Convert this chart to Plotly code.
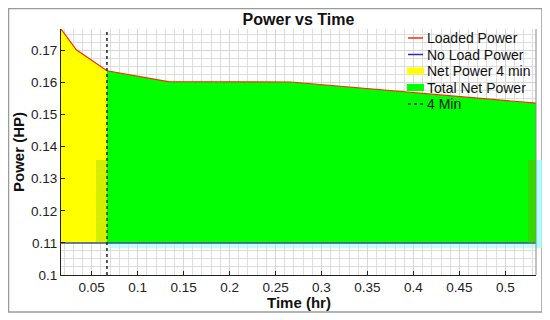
import plotly.graph_objects as go

# ---- data ----
time_min = [1, 2, 4, 8, 16, 32]
time_hr = [t / 60 for t in time_min]
loaded_power = [0.1766, 0.1701, 0.1636, 0.1602, 0.1601, 0.1535]
no_load_power = [0.11, 0.11, 0.11, 0.11, 0.11, 0.11]
marker_time_hr = 4 / 60
x_ticks = [0.05, 0.1, 0.15, 0.2, 0.25, 0.3, 0.35, 0.4, 0.45, 0.5]
y_ticks = [0.1, 0.11, 0.12, 0.13, 0.14, 0.15, 0.16, 0.17]
y_bottom = 0.1
legend_names = ["Loaded Power", "No Load Power", "Net Power 4 min", "Total Net Power", "4 Min"]

FONT = "Arial, Liberation Sans, sans-serif"

# page has an 8px body margin -> figure is 542x312, positions below use reference pixels
PL, PR, PT, PB = 61, 536, 29, 275
PW, PH = PR - PL, PB - PT


def pxx(X):
    return (X - PL) / PW


def pxy(Y):
    return (PB - Y) / PH


k = 2  # index of the 4 min point

fig = go.Figure()

xs_y = time_hr[: k + 1] + time_hr[: k + 1][::-1]
ys_y = loaded_power[: k + 1] + no_load_power[: k + 1][::-1]
xs_g = time_hr[k:] + time_hr[k:][::-1]
ys_g = loaded_power[k:] + no_load_power[k:][::-1]

fig.add_trace(go.Scatter(x=xs_y, y=ys_y, fill="toself", fillcolor="#ffff00",
                         line=dict(width=0), mode="lines", name=legend_names[2]))
fig.add_trace(go.Scatter(x=xs_g, y=ys_g, fill="toself", fillcolor="#00ff00",
                         line=dict(width=0), mode="lines", name=legend_names[3]))
fig.add_trace(go.Scatter(x=time_hr, y=loaded_power, mode="lines",
                         line=dict(color="#ff2a00", width=1.2), name=legend_names[0]))
fig.add_trace(go.Scatter(x=time_hr, y=no_load_power, mode="lines",
                         line=dict(color="#3a4f8c", width=1.5), name=legend_names[1]))
fig.add_trace(go.Scatter(x=[marker_time_hr, marker_time_hr], y=[y_bottom, max(loaded_power)],
                         mode="lines", line=dict(color="#222", width=1.5, dash="dot"),
                         name=legend_names[4]))

ymax = max(loaded_power)

# ---- manual legend (samples + labels) ----
leg_rows = [38, 54.5, 71, 87.5, 104]
leg_x0, leg_x1, leg_tx = 408, 423, 425
leg_styles = [
    ("line", "#ff2a00", "solid"),
    ("line", "#2030b0", "solid"),
    ("box", "#ffff00", None),
    ("box", "#00ff00", None),
    ("line", "#222", "dot"),
]
annotations = []
shapes = []
for name, yc, (kind, col, dash) in zip(legend_names, leg_rows, leg_styles):
    annotations.append(dict(text=name, xref="paper", yref="paper", x=pxx(leg_tx), y=pxy(yc),
                            xanchor="left", yanchor="middle", showarrow=False,
                            font=dict(size=14, color="#111", family=FONT)))
    if kind == "line":
        shapes.append(dict(type="line", xref="paper", yref="paper", x0=pxx(leg_x0), x1=pxx(leg_x1),
                           y0=pxy(yc), y1=pxy(yc), line=dict(color=col, width=1.5, dash=dash),
                           layer="above"))
    else:
        shapes.append(dict(type="rect", xref="paper", yref="paper", x0=pxx(leg_x0 - 1), x1=pxx(leg_x1 + 1),
                           y0=pxy(yc + 3.5), y1=pxy(yc - 3.5), line=dict(width=0), fillcolor=col,
                           layer="above"))

annotations += [
    dict(text="<b>Time (hr)</b>", xref="paper", yref="paper", x=0.5,
         y=pxy(302), xanchor="center", yanchor="middle", showarrow=False,
         font=dict(size=15, color="#111", family=FONT)),
    dict(text="<b>Power (HP)</b>", xref="paper", yref="paper", x=pxx(18),
         y=0.5, xanchor="center", yanchor="middle", textangle=-90, showarrow=False,
         font=dict(size=15, color="#111", family=FONT)),
]

shapes += [
    # outer figure frame
    dict(type="rect", xref="paper", yref="paper",
         x0=pxx(8.5), x1=pxx(542), y0=pxy(312), y1=pxy(8.5),
         line=dict(color="#9a9a9a", width=1.5), fillcolor="rgba(0,0,0,0)", layer="above"),
    # right axis border
    dict(type="line", xref="paper", yref="paper", x0=1, x1=1, y0=0, y1=1,
         line=dict(color="#888", width=1), layer="above"),
    # light cyan artifact band (behind data)
    dict(type="rect", xref="paper", yref="paper",
         x0=pxx(108), x1=pxx(545), y0=pxy(248), y1=pxy(160),
         line=dict(width=0), fillcolor="rgba(170,255,255,0.75)", layer="below"),
    # yellow-green band left of the 4 min line
    dict(type="rect", xref="paper", yref="paper",
         x0=pxx(96), x1=pxx(107), y0=pxy(242), y1=pxy(160),
         line=dict(width=0), fillcolor="rgba(110,200,0,0.3)", layer="above"),
    # darker green band at right edge
    dict(type="rect", xref="paper", yref="paper",
         x0=pxx(528), x1=pxx(536), y0=pxy(243), y1=pxy(160),
         line=dict(width=0), fillcolor="rgba(110,170,0,0.45)", layer="above"),
    # cyan strip right of plot area
    dict(type="rect", xref="paper", yref="paper",
         x0=pxx(537), x1=pxx(545), y0=pxy(248), y1=pxy(160),
         line=dict(width=0), fillcolor="rgba(170,255,255,0.75)", layer="above"),
]

fig.update_layout(
    width=542, height=312,
    margin=dict(l=PL - 8, r=542 - (PR - 8), t=PT - 8, b=312 - (PB - 8)),
    paper_bgcolor="white", plot_bgcolor="white",
    font=dict(family=FONT, size=13.5, color="#222"),
    title=dict(text="<b>Power vs Time</b>", x=0.5, xref="paper", y=1 - (19 - 8) / 312,
               yref="container", yanchor="middle", xanchor="center",
               font=dict(size=16, color="#111", family=FONT)),
    showlegend=False,
    xaxis=dict(range=[time_hr[0], time_hr[-1]], tickvals=x_ticks,
               ticktext=[f"{v:g}" for v in x_ticks],
               ticks="inside", ticklen=4, tickcolor="#222",
               showline=True, linecolor="#222", linewidth=1,
               showgrid=True, gridcolor="#d6d6d6", gridwidth=1,
               minor=dict(dtick=0.01, showgrid=True, gridcolor="#dedede", gridwidth=1),
               zeroline=False, tickfont=dict(size=13.5)),
    yaxis=dict(range=[y_bottom, ymax], tickvals=y_ticks,
               ticktext=[f"{v:g}" for v in y_ticks],
               ticks="inside", ticklen=4, tickcolor="#222",
               showline=True, linecolor="#222", linewidth=1,
               showgrid=True, gridcolor="#d6d6d6", gridwidth=1,
               minor=dict(dtick=0.0025, showgrid=True, gridcolor="#dedede", gridwidth=1),
               zeroline=False, tickfont=dict(size=13.5)),
    annotations=annotations,
    shapes=shapes,
)

fig.write_html("out.html")
